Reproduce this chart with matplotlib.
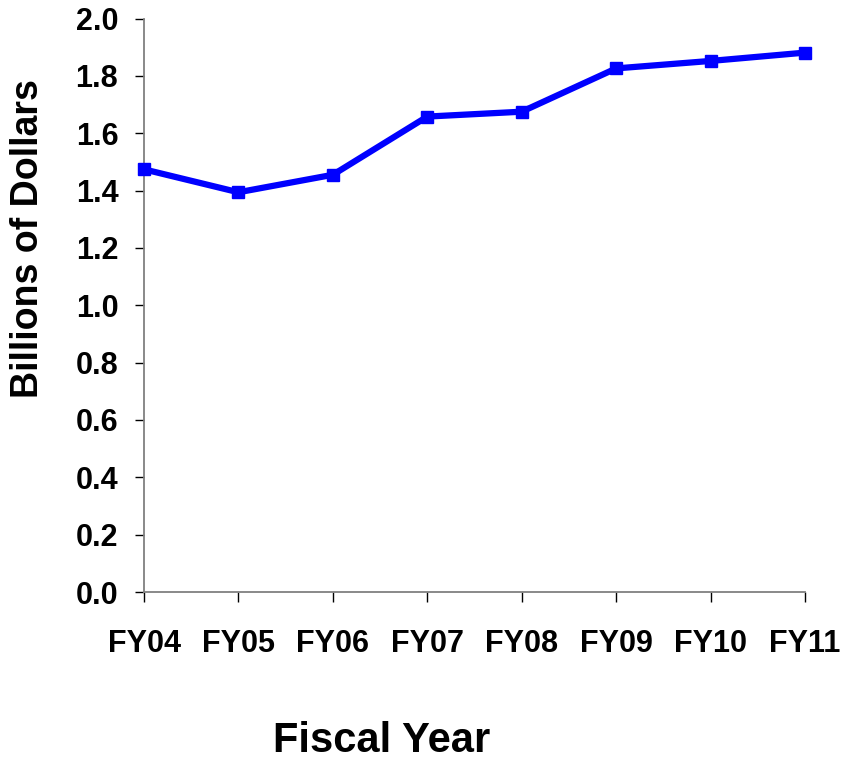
import matplotlib
matplotlib.use("Agg")
import matplotlib.pyplot as plt

years = ["FY04", "FY05", "FY06", "FY07", "FY08", "FY09", "FY10", "FY11"]
values = [1.474, 1.394, 1.455, 1.658, 1.675, 1.826, 1.852, 1.881]
yticks = [0.0, 0.2, 0.4, 0.6, 0.8, 1.0, 1.2, 1.4, 1.6, 1.8, 2.0]

plt.rcParams['font.family'] = ['Liberation Sans', 'DejaVu Sans']
plt.rcParams['font.weight'] = 'bold'

fig = plt.figure(figsize=(8.42, 7.6), dpi=100)
ax = fig.add_axes([144/842, 1-592/760, (805-144)/842, (592-18.5)/760])

x = list(range(len(years)))
ax.plot(x, values, color='#0000FF', linewidth=4.5, marker='s', markersize=8.5,
        clip_on=False, zorder=3)

ax.set_xlim(0, len(years)-1)
ax.set_ylim(0, 2.0)
ax.set_xticks(x)
ax.set_xticklabels(years)
ax.set_yticks(yticks)
ax.set_yticklabels([f"{v:.1f}" for v in yticks])

for s in ['top', 'right']:
    ax.spines[s].set_visible(False)
for s in ['left', 'bottom']:
    ax.spines[s].set_color('#808080')
    ax.spines[s].set_linewidth(1.3)

ax.tick_params(axis='y', direction='out', length=6.5, width=1, color='black',
               labelsize=22, pad=12)
ax.tick_params(axis='x', direction='out', length=7, width=1, color='black',
               labelsize=22, pad=20)
for lab in ax.get_xticklabels() + ax.get_yticklabels():
    lab.set_fontweight('bold')

fig.text(382/842, 1-752/760, "Fiscal Year", ha='center', va='baseline',
         fontsize=30, fontweight='bold')
fig.text(28/842, 1-239/760, "Billions of Dollars", ha='center', va='center',
         rotation=90, fontsize=27, fontweight='bold')

fig.savefig("out.png", dpi=100)
